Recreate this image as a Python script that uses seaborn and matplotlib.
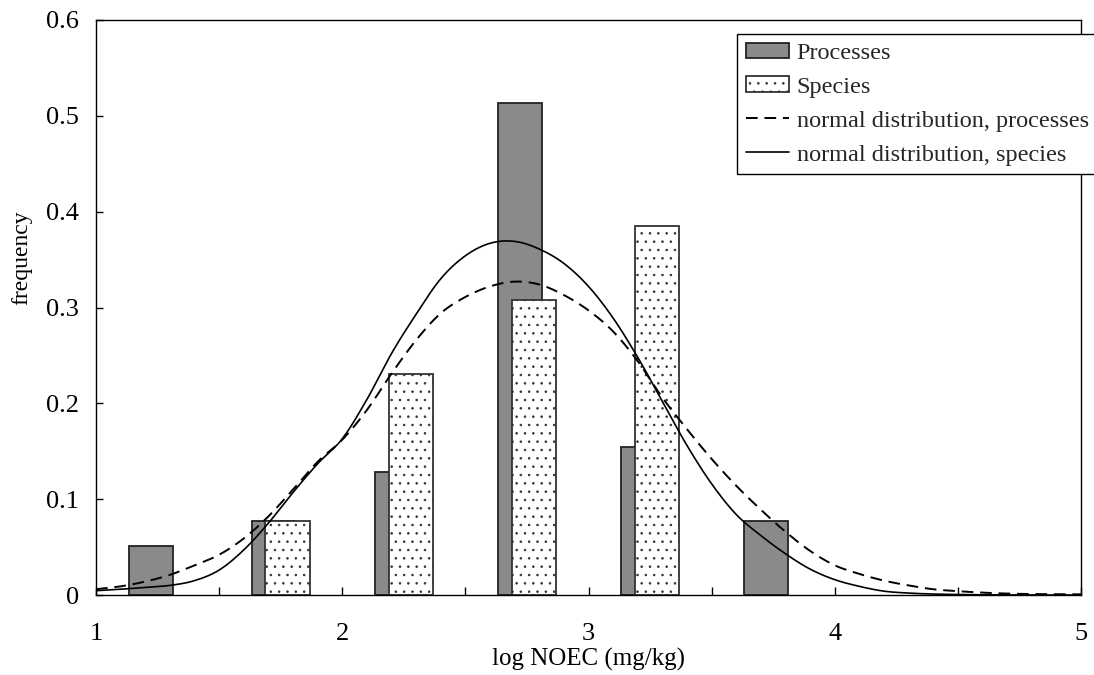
import numpy as np
import pandas as pd
import matplotlib
matplotlib.use("Agg")
import matplotlib.pyplot as plt
import seaborn as sns

# Histogram bins of log NOEC (mg/kg) and relative frequencies
proc_bins = [1.25, 1.75, 2.25, 2.75, 3.25, 3.75]
proc_freq = [0.051, 0.077, 0.128, 0.513, 0.154, 0.077]
spec_bins = [1.75, 2.25, 2.75, 3.25]
spec_freq = [0.077, 0.231, 0.308, 0.385]

# Fitted normal distribution curves
curve_x = [1.0, 1.1, 1.2, 1.3, 1.4, 1.5, 1.6, 1.7, 1.8, 1.9,
           2.0, 2.1, 2.2, 2.3, 2.4, 2.5, 2.6, 2.7, 2.8, 2.9,
           3.0, 3.1, 3.2, 3.3, 3.4, 3.5, 3.6, 3.7, 3.8, 3.9,
           4.0, 4.1, 4.2, 4.3, 4.4, 4.5, 4.6, 4.7, 4.8, 4.9, 5.0]
proc_curve = [0.006, 0.009, 0.014, 0.021, 0.031, 0.042, 0.059, 0.082, 0.110, 0.139,
              0.162, 0.193, 0.231, 0.266, 0.294, 0.311, 0.322, 0.327, 0.324, 0.313,
              0.297, 0.275, 0.244, 0.206, 0.173, 0.142, 0.114, 0.089, 0.066, 0.046,
              0.031, 0.022, 0.015, 0.010, 0.006, 0.004, 0.0025, 0.0015, 0.001, 0.0008, 0.0007]
spec_curve = [0.0045, 0.006, 0.008, 0.010, 0.015, 0.026, 0.047, 0.075, 0.107, 0.137,
              0.163, 0.204, 0.252, 0.293, 0.330, 0.354, 0.367, 0.369, 0.361, 0.346,
              0.322, 0.289, 0.248, 0.202, 0.156, 0.116, 0.084, 0.062, 0.043, 0.027,
              0.016, 0.009, 0.004, 0.002, 0.001, 0.0005, 0.0002, 0.0001, 0.0, 0.0, 0.0]

x_tick_labels = ["1", "2", "3", "4", "5"]
y_tick_labels = ["0", "0.1", "0.2", "0.3", "0.4", "0.5", "0.6"]


def smooth_path(xs, ys, steps=12):
    """Catmull-Rom smoothing of a polyline for drawing (smoothed-line style)."""
    xs = np.asarray(xs, float)
    ys = np.asarray(ys, float)
    px = np.concatenate([[2 * xs[0] - xs[1]], xs, [2 * xs[-1] - xs[-2]]])
    py = np.concatenate([[2 * ys[0] - ys[1]], ys, [2 * ys[-1] - ys[-2]]])
    out_x, out_y = [], []
    t = np.linspace(0, 1, steps, endpoint=False)
    for i in range(1, len(px) - 2):
        for p, out in ((px, out_x), (py, out_y)):
            p0, p1, p2, p3 = p[i - 1], p[i], p[i + 1], p[i + 2]
            out.extend(0.5 * ((2 * p1) + (-p0 + p2) * t
                              + (2 * p0 - 5 * p1 + 4 * p2 - p3) * t ** 2
                              + (-p0 + 3 * p1 - 3 * p2 + p3) * t ** 3))
    out_x.append(xs[-1])
    out_y.append(ys[-1])
    return np.array(out_x), np.clip(np.array(out_y), 0, None)


sns.set_theme(style="white")
plt.rcParams["font.family"] = ["Liberation Serif", "DejaVu Serif"]
plt.rcParams["hatch.linewidth"] = 0.6

W, H = 1094, 675
fig = plt.figure(figsize=(W / 100, H / 100), dpi=100)
ax = fig.add_axes([96 / W, 80 / H, 985 / W, 575 / H])

bar_shift = 0.028
proc_df = pd.DataFrame({"x": np.array(proc_bins) - bar_shift, "y": proc_freq})
spec_df = pd.DataFrame({"x": np.array(spec_bins) + bar_shift, "y": spec_freq})

sns.barplot(data=proc_df, x="x", y="y", native_scale=True, width=0.36,
            color="#8a8a8a", saturation=1, edgecolor="#222222", linewidth=1.3,
            label="Processes", ax=ax, errorbar=None)
sns.barplot(data=spec_df, x="x", y="y", native_scale=True, width=0.36,
            color="white", saturation=1, edgecolor="#333333", linewidth=1.3,
            label="Species", ax=ax, errorbar=None)
# dotted texture on the species bars
for patch in ax.containers[1]:
    patch.set_hatch("..")
    if hasattr(patch, "set_hatchcolor"):
        patch.set_hatchcolor("#666666")

px_s, py_s = smooth_path(curve_x, proc_curve)
sx_s, sy_s = smooth_path(curve_x, spec_curve)
sns.lineplot(x=px_s, y=py_s, color="black", linewidth=1.4, sort=False,
             linestyle=(0, (6, 3.5)), label="normal distribution, processes", ax=ax)
sns.lineplot(x=sx_s, y=sy_s, color="black", linewidth=1.2, sort=False,
             label="normal distribution, species", ax=ax)

ax.set_xlim(1, 5)
ax.set_ylim(0, 0.6)
ax.set_xticks([1, 2, 3, 4, 5])
ax.set_xticklabels(x_tick_labels)
ax.set_xticks([1.5, 2.5, 3.5, 4.5], minor=True)
ax.set_yticks([0, 0.1, 0.2, 0.3, 0.4, 0.5, 0.6])
ax.set_yticklabels(y_tick_labels)

ax.tick_params(axis="x", which="both", direction="in", length=6, width=1,
               color="black", pad=20, labelsize=19, labelcolor="black", bottom=True)
ax.tick_params(axis="y", which="both", direction="in", length=5, width=1,
               color="black", pad=12, labelsize=19, labelcolor="black", left=True)

for side in ["left", "right", "top", "bottom"]:
    ax.spines[side].set_visible(True)
    ax.spines[side].set_color("black")
    ax.spines[side].set_linewidth(1.0)

ax.set_xlabel("log NOEC (mg/kg)", fontsize=18, color="black")
ax.set_ylabel("frequency", fontsize=17, color="black")
ax.xaxis.set_label_coords(0.5, -0.112)
ax.xaxis.label.set_va("center")
ax.yaxis.set_label_coords(-0.075, 0.586)
ax.yaxis.label.set_va("center")

handles, labels = ax.get_legend_handles_labels()
order = [labels.index(n) for n in ["Processes", "Species",
                                   "normal distribution, processes",
                                   "normal distribution, species"]]
leg = ax.legend([handles[i] for i in order], [labels[i] for i in order],
                loc="upper left", bbox_to_anchor=(737 / W, 1 - 34 / H),
                bbox_transform=fig.transFigure, borderaxespad=0, fontsize=17.5,
                frameon=True, fancybox=False, shadow=False, framealpha=1,
                edgecolor="black", handlelength=1.8, handleheight=0.6,
                handletextpad=0.3, borderpad=0.35, labelspacing=0.52)
leg.get_frame().set_linewidth(1.0)

fig.savefig("out.png", dpi=100, facecolor="white")
